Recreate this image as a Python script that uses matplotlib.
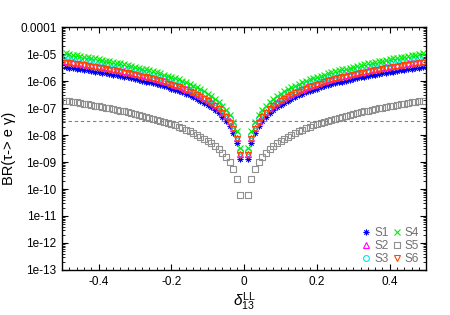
import numpy as np
import matplotlib
matplotlib.use("Agg")
import matplotlib.pyplot as plt
from matplotlib.path import Path
from matplotlib.ticker import FixedLocator, MultipleLocator, LogLocator, NullFormatter

plt.rcParams['font.family'] = ['Liberation Sans', 'DejaVu Sans']
plt.rcParams['mathtext.fontset'] = 'custom'
plt.rcParams['mathtext.rm'] = 'Liberation Sans'
plt.rcParams['mathtext.it'] = 'Liberation Sans:italic'

# delta_13^LL sampled at +-0.01 ... +-0.49 (curves are symmetric)
delta = np.round(np.arange(1, 50) * 0.01, 2)

# BR values for the positive side, units of 1e-9 (S5 in 1e-11)
s1 = [1.3, 5.2, 11.7, 20.8, 32.5, 46.8, 63.7, 83.3, 105, 130, 158, 188, 220, 256, 294,
      335, 378, 424, 473, 524, 578, 635, 695, 757, 823, 891, 962, 1035, 1112, 1191,
      1273, 1358, 1447, 1538, 1632, 1728, 1828, 1931, 2037, 2147, 2259, 2374, 2493,
      2614, 2739, 2867, 2999, 3133, 3271]
s2 = [2.0, 8.0, 18.0, 32.0, 50.1, 72.2, 98.3, 128, 163, 201, 244, 290, 341, 397, 456,
      520, 588, 661, 738, 819, 905, 996, 1092, 1192, 1297, 1407, 1522, 1642, 1767, 1897,
      2033, 2174, 2320, 2472, 2630, 2794, 2963, 3138, 3320, 3507, 3701, 3901, 4108,
      4322, 4542, 4769, 5003, 5245, 5494]
s3 = [2.6, 10.4, 23.4, 41.7, 65.1, 93.9, 128, 167, 212, 262, 318, 379, 446, 519, 597,
      681, 771, 867, 969, 1077, 1192, 1313, 1441, 1575, 1716, 1864, 2020, 2182, 2352,
      2530, 2715, 2908, 3109, 3318, 3536, 3763, 3998, 4242, 4496, 4759, 5032, 5315,
      5607, 5911, 6225, 6549, 6885, 7233, 7592]
s4 = [3.4, 13.6, 30.6, 54.5, 85.3, 123, 168, 219, 278, 344, 417, 498, 586, 682, 786,
      897, 1017, 1144, 1281, 1425, 1579, 1741, 1913, 2094, 2284, 2485, 2695, 2916, 3148,
      3390, 3644, 3909, 4186, 4475, 4777, 5091, 5419, 5760, 6115, 6484, 6868, 7267,
      7682, 8112, 8558, 9021, 9502, 9999, 10515]
s5 = [6.0, 24.0, 54.1, 96.2, 150.5, 217, 296, 387, 491, 608, 737, 880, 1036, 1206, 1390,
      1587, 1799, 2026, 2268, 2525, 2798, 3087, 3392, 3715, 4055, 4413, 4789, 5183,
      5598, 6032, 6486, 6962, 7459, 7978, 8521, 9086, 9676, 10290, 10930, 11597, 12290,
      13011, 13761, 14540, 15349, 16189, 17061, 17964, 18902]
s6 = [1.8, 7.2, 16.2, 28.8, 45.0, 64.9, 88.4, 116, 146, 181, 219, 261, 307, 356, 410,
      467, 528, 593, 662, 734, 811, 892, 977, 1067, 1160, 1258, 1360, 1467, 1577, 1693,
      1813, 1938, 2067, 2201, 2340, 2484, 2633, 2787, 2946, 3110, 3280, 3455, 3636,
      3822, 4014, 4212, 4416, 4625, 4840]

bound = 3.3e-8  # experimental limit

labels = ["S1", "S2", "S3", "S4", "S5", "S6"]
scales = [1e-9, 1e-9, 1e-9, 1e-9, 1e-11, 1e-9]
series = [s1, s2, s3, s4, s5, s6]
colors = ["#0000ff", "#ff00ff", "#00e5e5", "#00ee00", "#909090", "#ff4500"]

# gnuplot-like point shapes
asterisk = Path([(-1, 0), (1, 0), (0, -1), (0, 1), (-0.7, -0.7), (0.7, 0.7), (-0.7, 0.7), (0.7, -0.7)],
                [Path.MOVETO, Path.LINETO] * 4)
dotsq = Path([(-1, -1), (1, -1), (1, 1), (-1, 1), (-1, -1),
              (-0.12, -0.12), (0.12, -0.12), (0.12, 0.12), (-0.12, 0.12), (-0.12, -0.12)],
             [Path.MOVETO] + [Path.LINETO] * 3 + [Path.CLOSEPOLY] +
             [Path.MOVETO] + [Path.LINETO] * 3 + [Path.CLOSEPOLY])
markers = [asterisk, "^", "o", "x", dotsq, "v"]
msizes = [4.5, 4.5, 4.2, 4.5, 4.2, 4.5]

fig, ax = plt.subplots(figsize=(4.5, 3.15), dpi=100)
fig.subplots_adjust(left=0.138, right=0.947, top=0.914, bottom=0.143)

x = np.concatenate([-delta[::-1], delta])
for vals, sc, lab, c, m, ms in zip(series, scales, labels, colors, markers, msizes):
    v = np.array(vals) * sc
    y = np.concatenate([v[::-1], v])
    ax.plot(x, y, linestyle="none", marker=m, ms=ms, mew=0.8, mfc="none", mec=c, label=lab)

ax.axhline(bound, color="#808080", lw=0.8, ls=(0, (3, 2.5)))

ax.set_yscale("log")
ax.set_xlim(-0.5, 0.5)
ax.set_ylim(1e-13, 1e-4)
ax.xaxis.set_major_locator(FixedLocator([-0.4, -0.2, 0, 0.2, 0.4]))
ax.set_xticklabels(["-0.4", "-0.2", "0", "0.2", "0.4"])
ax.xaxis.set_minor_locator(MultipleLocator(0.02))
ax.yaxis.set_major_locator(FixedLocator([10.0 ** e for e in range(-13, -3)]))
ax.set_yticklabels(["1e-13", "1e-12", "1e-11", "1e-10", "1e-09", "1e-08",
                    "1e-07", "1e-06", "1e-05", "0.0001"])
ax.yaxis.set_minor_locator(LogLocator(base=10, subs=np.arange(2, 10), numticks=20))
ax.yaxis.set_minor_formatter(NullFormatter())
ax.tick_params(which="both", direction="in", top=True, right=True, labelsize=8.5, pad=4)
ax.tick_params(which="major", length=4, width=0.8)
ax.tick_params(which="minor", length=2, width=0.6)
for s in ax.spines.values():
    s.set_linewidth(1.0)

ax.set_ylabel("BR(τ-> e γ)", fontsize=10.5, labelpad=3)
ax.set_xlabel(r"$\delta^{\rm LL}_{\rm 13}$", fontsize=11, labelpad=2)

ax.legend(loc="lower right", ncol=2, frameon=False, fontsize=8.5, labelcolor="#707070",
          handlelength=0.8, handletextpad=0.3, columnspacing=0.25, labelspacing=0.1,
          borderaxespad=0, bbox_to_anchor=(0.994, 0.0))

fig.savefig("out.png", dpi=100)
